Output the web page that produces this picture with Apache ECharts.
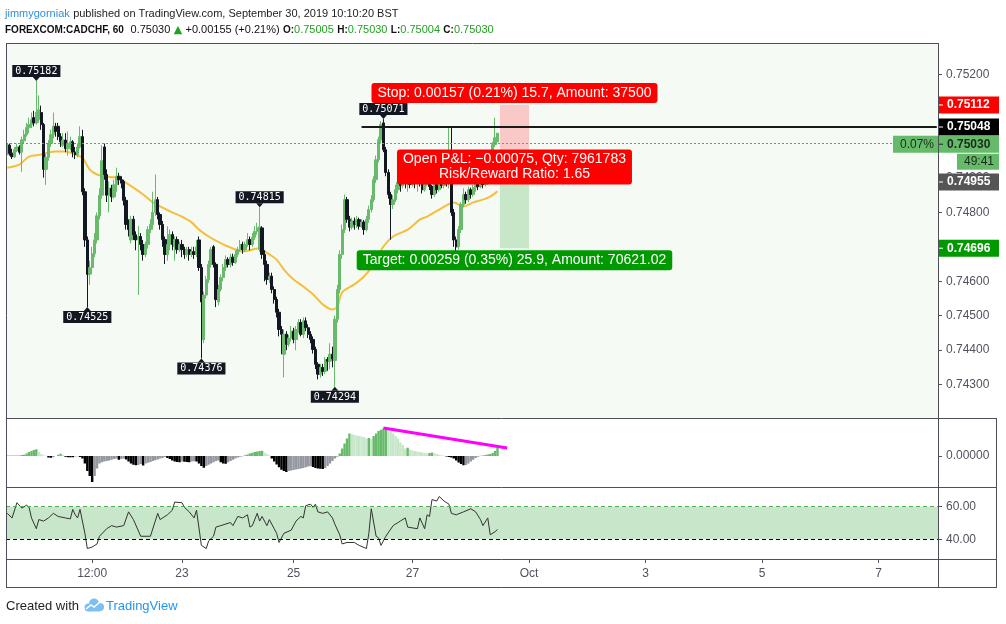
<!DOCTYPE html>
<html>
<head>
<meta charset="utf-8">
<script src="https://cdn.jsdelivr.net/npm/echarts@6/dist/echarts.min.js"></script>
<style>
  html, body { margin: 0; padding: 0; background: #fff; }
  #chart { width: 1006px; height: 624px; }
</style>
</head>
<body>
<div id="chart"></div>
<script>
// hourly CADCHF bars: [open, close, low, high]
const candles = [
  [0.74968,0.74997,0.74960,0.75002],[0.74995,0.74972,0.74965,0.75000],[0.74972,0.74962,0.74955,0.74985],[0.74962,0.74982,0.74958,0.74990],[0.74980,0.74990,0.74975,0.75000],
  [0.74990,0.74975,0.74968,0.74995],[0.74975,0.75011,0.74918,0.75020],[0.75008,0.75026,0.75000,0.75040],[0.75026,0.75046,0.75020,0.75060],[0.75046,0.75055,0.75030,0.75075],
  [0.75055,0.75069,0.75045,0.75090],[0.75075,0.75060,0.75050,0.75095],[0.75060,0.75090,0.75055,0.75182],[0.75070,0.75098,0.75060,0.75140],[0.75090,0.75055,0.75040,0.75110],
  [0.75055,0.74925,0.74901,0.75060],[0.74925,0.74960,0.74880,0.74970],[0.74960,0.75000,0.74950,0.75010],[0.75000,0.75026,0.74990,0.75040],[0.75026,0.75050,0.75015,0.75090],
  [0.75050,0.75035,0.75020,0.75060],[0.75050,0.75020,0.75010,0.75060],[0.75020,0.75005,0.74990,0.75030],[0.74995,0.75010,0.74990,0.75030],[0.75010,0.74985,0.74975,0.75030],
  [0.74985,0.75000,0.74965,0.75035],[0.74990,0.75005,0.74980,0.75020],[0.75005,0.74975,0.74960,0.75010],[0.74975,0.74968,0.74955,0.74990],[0.74968,0.74990,0.74960,0.75000],
  [0.74990,0.75020,0.74985,0.75050],[0.75020,0.74860,0.74850,0.75040],[0.74860,0.74720,0.74700,0.74870],[0.74720,0.74620,0.74525,0.74730],[0.74620,0.74640,0.74590,0.74660],
  [0.74640,0.74680,0.74620,0.74700],[0.74680,0.74720,0.74670,0.74740],[0.74720,0.74790,0.74710,0.74800],[0.74790,0.74850,0.74780,0.74870],[0.74850,0.74950,0.74840,0.74995],
  [0.74990,0.74910,0.74895,0.75000],[0.74910,0.74850,0.74830,0.74925],[0.74850,0.74870,0.74800,0.74890],[0.74870,0.74845,0.74830,0.74880],[0.74845,0.74880,0.74840,0.74895],
  [0.74880,0.74905,0.74860,0.74930],[0.74905,0.74895,0.74880,0.74915],[0.74895,0.74885,0.74870,0.74905],[0.74890,0.74835,0.74820,0.74895],[0.74835,0.74765,0.74750,0.74845],
  [0.74765,0.74750,0.74730,0.74780],[0.74720,0.74780,0.74710,0.74790],[0.74780,0.74735,0.74720,0.74790],[0.74735,0.74720,0.74690,0.74745],[0.74720,0.74730,0.74560,0.74760],
  [0.74730,0.74707,0.74690,0.74740],[0.74707,0.74678,0.74660,0.74720],[0.74678,0.74707,0.74670,0.74715],[0.74707,0.74750,0.74695,0.74760],[0.74750,0.74765,0.74740,0.74780],
  [0.74765,0.74800,0.74750,0.74860],[0.74800,0.74837,0.74790,0.74910],[0.74837,0.74794,0.74780,0.74845],[0.74794,0.74765,0.74750,0.74800],[0.74765,0.74721,0.74700,0.74775],
  [0.74721,0.74678,0.74650,0.74730],[0.74678,0.74707,0.74660,0.74760],[0.74707,0.74736,0.74690,0.74750],[0.74736,0.74707,0.74690,0.74745],[0.74700,0.74721,0.74660,0.74730],
  [0.74721,0.74692,0.74680,0.74730],[0.74692,0.74707,0.74685,0.74715],[0.74707,0.74692,0.74670,0.74720],[0.74692,0.74678,0.74665,0.74700],[0.74678,0.74692,0.74670,0.74700],
  [0.74692,0.74678,0.74660,0.74700],[0.74678,0.74686,0.74670,0.74700],[0.74686,0.74678,0.74665,0.74700],[0.74678,0.74700,0.74670,0.74720],[0.74720,0.74640,0.74630,0.74730],
  [0.74640,0.74540,0.74376,0.74650],[0.74430,0.74560,0.74420,0.74570],[0.74560,0.74605,0.74550,0.74615],[0.74605,0.74649,0.74595,0.74660],[0.74649,0.74692,0.74640,0.74700],
  [0.74700,0.74649,0.74640,0.74705],[0.74649,0.74547,0.74525,0.74655],[0.74540,0.74576,0.74530,0.74590],[0.74576,0.74611,0.74570,0.74620],[0.74611,0.74640,0.74600,0.74650],
  [0.74640,0.74663,0.74630,0.74675],[0.74663,0.74649,0.74640,0.74670],[0.74649,0.74670,0.74640,0.74680],[0.74670,0.74655,0.74645,0.74680],[0.74655,0.74678,0.74650,0.74690],
  [0.74678,0.74692,0.74670,0.74700],[0.74692,0.74707,0.74685,0.74720],[0.74707,0.74692,0.74680,0.74715],[0.74692,0.74707,0.74685,0.74715],[0.74707,0.74721,0.74700,0.74740],
  [0.74721,0.74707,0.74690,0.74730],[0.74707,0.74728,0.74700,0.74740],[0.74728,0.74745,0.74720,0.74760],[0.74745,0.74755,0.74735,0.74770],[0.74692,0.74758,0.74685,0.74815],
  [0.74755,0.74678,0.74665,0.74760],[0.74678,0.74649,0.74600,0.74690],[0.74649,0.74605,0.74590,0.74660],[0.74605,0.74615,0.74595,0.74625],[0.74615,0.74576,0.74565,0.74625],
  [0.74576,0.74547,0.74535,0.74585],[0.74547,0.74510,0.74495,0.74555],[0.74510,0.74460,0.74440,0.74520],[0.74460,0.74446,0.74388,0.74470],[0.74388,0.74446,0.74321,0.74460],
  [0.74446,0.74417,0.74400,0.74455],[0.74417,0.74435,0.74410,0.74445],[0.74435,0.74455,0.74425,0.74470],[0.74455,0.74431,0.74420,0.74465],[0.74431,0.74460,0.74400,0.74470],
  [0.74460,0.74480,0.74450,0.74490],[0.74480,0.74446,0.74440,0.74490],[0.74446,0.74485,0.74435,0.74495],[0.74485,0.74465,0.74455,0.74495],[0.74465,0.74446,0.74435,0.74475],
  [0.74446,0.74431,0.74420,0.74455],[0.74431,0.74402,0.74390,0.74440],[0.74402,0.74359,0.74345,0.74410],[0.74359,0.74330,0.74315,0.74365],[0.74330,0.74350,0.74320,0.74360],
  [0.74350,0.74338,0.74325,0.74360],[0.74338,0.74373,0.74330,0.74380],[0.74373,0.74368,0.74340,0.74380],[0.74368,0.74388,0.74345,0.74420],[0.74388,0.74375,0.74350,0.74410],
  [0.74370,0.74490,0.74294,0.74500],[0.74490,0.74576,0.74480,0.74590],[0.74576,0.74678,0.74565,0.74690],[0.74678,0.74750,0.74665,0.74765],[0.74750,0.74837,0.74740,0.74852],
  [0.74837,0.74780,0.74770,0.74845],[0.74780,0.74757,0.74745,0.74790],[0.74757,0.74775,0.74750,0.74785],[0.74775,0.74765,0.74750,0.74785],[0.74765,0.74779,0.74755,0.74790],
  [0.74779,0.74760,0.74750,0.74785],[0.74760,0.74772,0.74755,0.74780],[0.74772,0.74750,0.74735,0.74778],[0.74750,0.74780,0.74745,0.74790],[0.74780,0.74808,0.74770,0.74820],
  [0.74808,0.74837,0.74800,0.74850],[0.74837,0.74895,0.74830,0.74905],[0.74895,0.74953,0.74885,0.74965],[0.74953,0.75011,0.74945,0.75020],[0.75011,0.75055,0.75000,0.75065],
  [0.75060,0.74982,0.74975,0.75071],[0.74982,0.74916,0.74905,0.74990],[0.74916,0.74852,0.74840,0.74925],[0.74852,0.74823,0.74721,0.74860],[0.74823,0.74837,0.74810,0.74850],
  [0.74837,0.74866,0.74830,0.74880],[0.74866,0.74887,0.74855,0.74895],[0.74887,0.74878,0.74860,0.74895],[0.74878,0.74895,0.74870,0.74905],[0.74895,0.74887,0.74870,0.74900],
  [0.74887,0.74895,0.74860,0.74910],[0.74895,0.74881,0.74870,0.74905],[0.74881,0.74890,0.74875,0.74900],[0.74890,0.74884,0.74870,0.74900],[0.74884,0.74895,0.74860,0.74905],
  [0.74895,0.74884,0.74875,0.74905],[0.74884,0.74866,0.74855,0.74890],[0.74866,0.74881,0.74860,0.74890],[0.74881,0.74890,0.74875,0.74900],[0.74890,0.74875,0.74865,0.74900],
  [0.74875,0.74852,0.74840,0.74880],[0.74852,0.74881,0.74845,0.74890],[0.74881,0.74866,0.74855,0.74890],[0.74866,0.74887,0.74860,0.74895],[0.74887,0.74878,0.74870,0.74895],
  [0.74878,0.74895,0.74870,0.74905],[0.74895,0.74884,0.74875,0.74900],[0.74884,0.74890,0.74870,0.75046],[0.74884,0.74800,0.74790,0.75046],[0.74800,0.74720,0.74700,0.74810],
  [0.74720,0.74700,0.74685,0.74730],[0.74700,0.74750,0.74692,0.74760],[0.74750,0.74823,0.74740,0.74830],[0.74823,0.74852,0.74815,0.74870],[0.74852,0.74837,0.74825,0.74860],
  [0.74837,0.74866,0.74830,0.74875],[0.74866,0.74852,0.74840,0.74872],[0.74852,0.74872,0.74845,0.74880],[0.74872,0.74881,0.74860,0.74890],[0.74881,0.74875,0.74865,0.74890],
  [0.74875,0.74887,0.74870,0.74895],[0.74887,0.74881,0.74870,0.74890],[0.74881,0.74890,0.74875,0.74900],[0.74890,0.74900,0.74880,0.74910],[0.74900,0.74940,0.74895,0.74950],
  [0.74940,0.74997,0.74930,0.75005],[0.74997,0.75017,0.74990,0.75075],[0.75005,0.75030,0.75004,0.75030]
];

// moving average (bar index / price)
const maIdx = [0,5,9,14,17,20,24,28,31,34, 37,41,45,48,52,56,60,64,68,72, 76,79,83,89,92,97,100,103,105,108,
  111,114,118,122,126,130,134,136,138,143, 147,151,155,159,165,170,173,178,184,188, 192,196,199,202];
const maVal = [0.74930,0.74939,0.74962,0.74968,0.74974,0.74977,0.74977,0.74968,0.74959,0.74924,
  0.74910,0.74904,0.74901,0.74890,0.74872,0.74852,0.74829,0.74814,0.74800,0.74788,
  0.74771,0.74750,0.74730,0.74707,0.74698,0.74687,0.74690,0.74695,0.74692,0.74678,
  0.74663,0.74634,0.74605,0.74585,0.74562,0.74533,0.74518,0.74527,0.74568,0.74591,
  0.74614,0.74649,0.74701,0.74730,0.74750,0.74779,0.74788,0.74808,0.74829,0.74817,
  0.74829,0.74837,0.74846,0.74861];

// momentum histogram, one value per bar
const momentum = [
  0.00002,0.00002,0.00002,0.00002,0.00002,0.00002,0.00004,0.00005,0.0001,0.00016,
  0.0002,0.00024,0.00027,0.00016,0.00008,0.00003,0.00001,-0.00006,-0.00007,-0.00005,
  0,0.00005,0.00009,0.00005,-0.00003,-0.00005,-0.00005,-0.00005,-0.00002,-0.00001,
  -0.00004,-0.0001,-0.0003,-0.0006,-0.0008,-0.00104,-0.0008,-0.0005,-0.0003,-0.00025,
  -0.00022,-0.0002,-0.00018,-0.00015,-0.00012,-0.0001,-0.00015,-0.00012,-0.0001,-0.00014,
  -0.00022,-0.0003,-0.00035,-0.00037,-0.00036,-0.00032,-0.00038,-0.0003,-0.00027,-0.00024,
  -0.0002,-0.00017,-0.00014,-0.0001,-0.00008,-0.00004,-0.00008,-0.00012,-0.00018,-0.00022,
  -0.00024,-0.00025,-0.00022,-0.00023,-0.00024,-0.00025,-0.00022,-0.00021,-0.00022,-0.0003,
  -0.0004,-0.00047,-0.0004,-0.00035,-0.0003,-0.00025,-0.0002,-0.00018,-0.00025,-0.0003,
  -0.00031,-0.00025,-0.0002,-0.00015,-0.0001,-0.00006,-0.00003,-0.00001,0.00003,0.00006,
  0.0001,0.00013,0.00016,0.00018,0.0002,0.00021,0.00014,0.00008,0.00003,-0.0001,
  -0.00022,-0.00034,-0.00045,-0.00055,-0.0006,-0.00064,-0.0006,-0.00058,-0.00056,-0.00054,
  -0.00052,-0.0005,-0.00048,-0.00045,-0.00042,-0.0004,-0.00044,-0.00048,-0.0005,-0.00051,
  -0.00052,-0.00048,-0.0004,-0.0003,-0.0002,-0.0001,-0.00003,0.0001,0.0003,0.0005,
  0.0007,0.0009,0.00087,0.00085,0.00082,0.0008,0.00078,0.00075,0.0007,0.00072,
  0.00068,0.0008,0.0009,0.001,0.00105,0.0011,0.00113,0.00105,0.001,0.0009,
  0.0008,0.0007,0.00055,0.00045,0.0003,0.00033,0.00026,0.00022,0.0002,0.00018,
  0.00016,0.00014,0.00012,0.0001,0.00012,0.00014,0.00012,0.00008,0.00005,0.00003,
  0.00001,-0.00002,-0.00004,-0.00006,-0.0001,-0.00018,-0.00026,-0.00032,-0.00037,-0.00036,
  -0.0003,-0.00022,-0.00015,-0.00008,-0.00003,0.00001,0.00002,0.00004,0.00006,0.00008,
  0.00012,0.0002,0.00033
];

// lower oscillator (bar index / value)
const rsiIdx = [0,2,4,6,8,9,10,12,13,15, 17,19,21,24,26,27,28,29,30,32, 33,35,37,38,41,43,45,48,50,52,
  55,59,61,62,63,66,68,69,72,73, 75,77,78,80,82,83,85,86,88,92, 93,95,97,99,100,101,103,104,105,107,
  108,110,111,112,114,117,119,121,122,123, 125,126,127,128,130,132,134,135,137,138,
  140,143,145,148,149,150,152,153,154,156, 159,162,164,165,169,170,172,173,174,175,
  177,178,180,182,183,185,188,191,193,195, 196,198,199,201,202];
const rsiVal = [55.9,53.1,62.4,59.1,60.9,59.6,53.1,46.5,52.1,51.2, 53.1,55.9,54.0,53.1,52.5,58.3,55.0,53.1,58.3,43.7,
  34.4,35.3,37.2,41.9,46.5,48.4,47.5,48.4,56.8,52.1, 41.9,41.9,51.2,55.9,52.1,55.0,57.8,62.8,62.4,59.6,
  56.8,53.1,57.8,36.3,34.4,39.1,41.9,47.5,48.4,50.3, 48.4,54.0,53.1,55.0,47.5,48.4,55.9,51.2,54.0,48.4,
  52.1,46.5,43.7,38.1,43.7,45.6,51.2,54.0,53.1,60.6, 61.5,59.6,61.5,56.8,55.9,56.8,53.1,49.3,42.8,37.2,
  38.1,38.1,36.3,34.4,43.7,58.7,41.9,40.9,36.3,41.9, 48.4,51.2,53.1,47.5,46.5,53.1,46.5,55.0,54.0,64.3,
  63.4,66.2,63.4,61.5,55.9,55.0,56.8,58.7,56.8,52.1, 48.4,53.1,42.8,44.7,46.0];

// x axis: slot count and labelled slots
const slotCount = 384;
const tickIdx = [35, 72, 118, 167, 215, 263, 311, 359];
const tickText = ['12:00', '23', '25', '27', 'Oct', '3', '5', '7'];

// swing high / low markers
const pivotIdx = [12, 33, 80, 104, 155, 135];
const pivotPrice = [0.75182, 0.74525, 0.74376, 0.74815, 0.75071, 0.74294];
const pivotSide = ['high', 'low', 'low', 'high', 'high', 'low'];

// short position tool
const posStart = 203, posEnd = 215;
const entryPrice = 0.74955, stopPrice = 0.75112, targetPrice = 0.74696;
const lastPrice = 0.75030, levelPrice = 0.75048;
const stopText = 'Stop: 0.00157 (0.21%) 15.7, Amount: 37500';
const pnlText = 'Open P&L: \u22120.00075, Qty: 7961783\nRisk/Reward Ratio: 1.65';
const targetText = 'Target: 0.00259 (0.35%) 25.9, Amount: 70621.02';

// divergence line on the histogram
const divIdx = [155, 206];
const divVal = [0.00112, 0.00032];

// right-axis price tags
const tagPrice = [stopPrice, levelPrice, lastPrice, entryPrice, targetPrice];
const tagBg = ['#ff0000', '#000000', '#66bb6a', '#555555', '#009900'];
const tagFg = ['#ffffff', '#ffffff', '#1b2a1b', '#ffffff', '#ffffff'];
const tagShift = [0, 0, 11, 23, 0];

const axisGray = '#50535e';
const frameColor = '#4d5059';
const sans = 'Liberation Sans, Arial, sans-serif';

const chart = echarts.init(document.getElementById('chart'));
const cats = Array.from({ length: slotCount }, (_, i) => String(i));

const momData = momentum.map((v, i) => {
  const prev = i > 0 ? momentum[i - 1] : 0;
  let c;
  if (v >= 0) c = v >= prev ? '#66bb6a' : '#c8e6c9';
  else c = v <= prev ? '#000000' : '#9598a1';
  return { value: v, itemStyle: { color: c } };
});

const pivotMarks = pivotIdx.map((idx, k) => {
  const high = pivotSide[k] === 'high';
  return {
    coord: [idx, pivotPrice[k]],
    symbol: 'triangle',
    symbolSize: [7, 4],
    symbolRotate: high ? 180 : 0,
    symbolOffset: [0, high ? -2 : 2],
    itemStyle: { color: '#131722' },
    label: {
      show: true,
      position: high ? 'top' : 'bottom',
      distance: 0,
      formatter: pivotPrice[k].toFixed(5),
      backgroundColor: '#131722',
      color: '#fff',
      fontFamily: 'DejaVu Sans Mono',
      fontSize: 10,
      lineHeight: 11,
      padding: [1, 3, 0, 3]
    }
  };
});

const tickShow = (index) => tickIdx.includes(index);

chart.setOption({
  animation: false,
  backgroundColor: '#ffffff',
  grid: [
    { left: 6, right: 68, top: 43, height: 376, show: true, backgroundColor: '#f5faf4', borderWidth: 0 },
    { left: 6, right: 68, top: 419, height: 68 },
    { left: 6, right: 68, top: 487, height: 72 }
  ],
  xAxis: [
    { type: 'category', gridIndex: 0, data: cats, show: false },
    { type: 'category', gridIndex: 1, data: cats, show: false },
    {
      type: 'category', gridIndex: 2, data: cats,
      axisLine: { show: false },
      axisTick: { show: true, interval: tickShow, alignWithLabel: true, length: 4, lineStyle: { color: axisGray } },
      axisLabel: {
        interval: tickShow, color: axisGray, fontSize: 12, fontFamily: sans, margin: 9,
        formatter: (v, i) => { const k = tickIdx.indexOf(i); return k >= 0 ? tickText[k] : ''; }
      }
    }
  ],
  yAxis: [
    {
      type: 'value', gridIndex: 0, position: 'right', min: 0.742, max: 0.75292, interval: 0.001,
      axisLine: { show: false }, splitLine: { show: false },
      axisTick: { show: true, length: 4, lineStyle: { color: axisGray } },
      axisLabel: { color: axisGray, fontSize: 12, fontFamily: sans, margin: 8, showMinLabel: false, showMaxLabel: false,
        formatter: (v) => v.toFixed(5) }
    },
    {
      type: 'value', gridIndex: 1, position: 'right', min: -0.00124, max: 0.00148,
      axisLine: { show: false }, splitLine: { show: false },
      axisTick: { show: true, length: 4, customValues: [0], lineStyle: { color: axisGray } },
      axisLabel: { customValues: [0], color: axisGray, fontSize: 12, fontFamily: sans, margin: 8, formatter: () => '0.00000' }
    },
    {
      type: 'value', gridIndex: 2, position: 'right', min: 28, max: 72,
      axisLine: { show: false }, splitLine: { show: false },
      axisTick: { show: true, length: 4, customValues: [40, 60], lineStyle: { color: axisGray } },
      axisLabel: { customValues: [40, 60], color: axisGray, fontSize: 12, fontFamily: sans, margin: 8, formatter: (v) => v.toFixed(2) }
    }
  ],
  series: [
    {
      type: 'candlestick', xAxisIndex: 0, yAxisIndex: 0, data: candles, barWidth: 2.8,
      itemStyle: { color: '#6aba6e', color0: '#131722', borderColor: '#6aba6e', borderColor0: '#131722', borderWidth: 1 },
      markLine: {
        silent: true, symbol: ['none', 'none'], label: { show: false },
        data: [
          { yAxis: lastPrice, lineStyle: { color: '#4caf50', type: [2, 2], width: 1 } },
          [{ coord: [146, levelPrice], lineStyle: { color: '#1a1a1a', type: 'solid', width: 2 } }, { coord: [slotCount - 1, levelPrice] }]
        ]
      },
      markArea: {
        silent: true,
        data: [
          [{ coord: [posStart, stopPrice], itemStyle: { color: '#f9c9c7' } }, { coord: [posEnd, entryPrice] }],
          [{ coord: [posStart, entryPrice], itemStyle: { color: '#c8e6c8' } }, { coord: [posEnd, targetPrice] }]
        ]
      },
      markPoint: { silent: true, data: pivotMarks }
    },
    {
      type: 'line', xAxisIndex: 0, yAxisIndex: 0, data: maIdx.map((x, k) => [x, maVal[k]]),
      showSymbol: false, smooth: 0.3, lineStyle: { color: '#f5bf3c', width: 2 }, z: 1
    },
    {
      type: 'bar', xAxisIndex: 1, yAxisIndex: 1, data: momData, barCategoryGap: '0%',
      markLine: {
        silent: true, symbol: ['none', 'none'], label: { show: false },
        data: [[{ coord: [divIdx[0], divVal[0]], lineStyle: { color: '#ff00ff', width: 3, type: 'solid' } }, { coord: [divIdx[1], divVal[1]] }]]
      }
    },
    {
      type: 'line', xAxisIndex: 2, yAxisIndex: 2, data: rsiIdx.map((x, k) => [x, rsiVal[k]]),
      showSymbol: false, lineStyle: { color: '#333333', width: 1 },
      markArea: { silent: true, data: [[{ yAxis: 60, itemStyle: { color: '#c8e6c9' } }, { yAxis: 40 }]] },
      markLine: {
        silent: true, symbol: ['none', 'none'], label: { show: false },
        data: [
          { yAxis: 60, lineStyle: { color: '#4caf50', type: [4, 3], width: 1 } },
          { yAxis: 40, lineStyle: { color: '#000000', type: [4, 3], width: 1 } }
        ]
      }
    }
  ]
});

// overlays placed through the chart's own scales
const py = (p) => chart.convertToPixel({ yAxisIndex: 0 }, p);
const px = (i) => chart.convertToPixel({ xAxisIndex: 0 }, i);
const g = [];
const line = (x1, y1, x2, y2) => g.push({ type: 'line', silent: true, shape: { x1, y1, x2, y2 }, style: { stroke: frameColor, lineWidth: 1 }, z: 50 });

// frame
line(6, 43.5, 939, 43.5);
line(6.5, 43, 6.5, 588);
line(938.5, 43, 938.5, 588);
line(6, 418.5, 997, 418.5);
line(6, 487.5, 997, 487.5);
line(6, 559.5, 997, 559.5);
line(6, 587.5, 997, 587.5);
line(996.5, 418, 996.5, 588);

// position labels
const midX = px((posStart + posEnd) / 2);
const note = (text, y, bg) => g.push({
  type: 'text', silent: true, z: 60, x: midX, y,
  style: { text, fill: '#fff', font: '14px ' + sans, align: 'center', verticalAlign: 'middle',
    backgroundColor: bg, padding: [3, 6, 2, 6], borderRadius: 3, lineHeight: 15 }
});
note(stopText, py(stopPrice) - 12, '#ff0000');
note(pnlText, py(entryPrice) + 8, '#ff0000');
note(targetText, py(targetPrice) + 12, '#009900');

// right-axis tags
tagPrice.forEach((p, k) => {
  const y = py(p) + tagShift[k];
  g.push({ type: 'rect', silent: true, z: 60, shape: { x: 939, y: y - 8.5, width: 60, height: 17 }, style: { fill: tagBg[k] } });
  g.push({ type: 'line', silent: true, z: 61, shape: { x1: 939, y1: y, x2: 943, y2: y }, style: { stroke: tagFg[k], lineWidth: 1 } });
  g.push({ type: 'text', silent: true, z: 61, x: 947, y, style: { text: p.toFixed(5), fill: tagFg[k], font: 'bold 12px ' + sans, verticalAlign: 'middle' } });
});
const lastY = py(lastPrice) + tagShift[2];
g.push({ type: 'rect', silent: true, z: 60, shape: { x: 893, y: lastY - 8.5, width: 45, height: 17 }, style: { fill: '#66bb6a' } });
g.push({ type: 'text', silent: true, z: 61, x: 934, y: lastY, style: { text: '0.07%', fill: '#1b2a1b', font: '12px ' + sans, align: 'right', verticalAlign: 'middle' } });
g.push({ type: 'rect', silent: true, z: 60, shape: { x: 957, y: lastY + 9.5, width: 42, height: 16 }, style: { fill: '#66bb6a' } });
g.push({ type: 'text', silent: true, z: 61, x: 994, y: lastY + 17.5, style: { text: '49:41', fill: '#1b2a1b', font: '12px ' + sans, align: 'right', verticalAlign: 'middle' } });

// header
g.push({
  type: 'text', silent: true, x: 5, y: 14,
  style: {
    text: '{u|jimmygorniak} {t|published on TradingView.com, September 30, 2019 10:10:20 BST}',
    verticalAlign: 'middle',
    rich: { u: { fill: '#2f8fdc', font: '11px ' + sans }, t: { fill: '#222', font: '11px ' + sans } }
  }
});
g.push({
  type: 'text', silent: true, x: 5, y: 30,
  style: {
    text: '{b|FOREXCOM:CADCHF, 60}  {n|0.75030} {tri|\u25B2} {n|+0.00155 (+0.21%)} {b|O:}{gr|0.75005} {b|H:}{gr|0.75030} {b|L:}{gr|0.75004} {b|C:}{gr|0.75030}',
    verticalAlign: 'middle',
    rich: {
      b: { fill: '#111', font: 'bold 10px ' + sans },
      n: { fill: '#111', font: '11px ' + sans },
      gr: { fill: '#21a121', font: '11px ' + sans },
      tri: { fill: '#21a121', font: '11px DejaVu Sans' }
    }
  }
});

// footer
g.push({ type: 'text', silent: true, x: 6, y: 606, style: { text: 'Created with', fill: '#222', font: '13px ' + sans, verticalAlign: 'middle' } });
g.push({ type: 'circle', silent: true, shape: { cx: 88.5, cy: 607.5, r: 4 }, style: { fill: '#7cc0f2' } });
g.push({ type: 'circle', silent: true, shape: { cx: 94, cy: 603.5, r: 5 }, style: { fill: '#7cc0f2' } });
g.push({ type: 'circle', silent: true, shape: { cx: 100, cy: 607, r: 4 }, style: { fill: '#7cc0f2' } });
g.push({ type: 'rect', silent: true, shape: { x: 88.5, y: 605, width: 11.5, height: 6.5 }, style: { fill: '#7cc0f2' } });
g.push({ type: 'polyline', silent: true, shape: { points: [[86, 609], [91, 605], [94, 607], [100, 602]] }, style: { stroke: '#ffffff', lineWidth: 1.5, fill: null } });
g.push({ type: 'text', silent: true, x: 106, y: 606, style: { text: 'TradingView', fill: '#2196f3', font: '13px ' + sans, verticalAlign: 'middle' } });

chart.setOption({ graphic: g });
window.addEventListener('resize', () => chart.resize());
</script>
</body>
</html>
